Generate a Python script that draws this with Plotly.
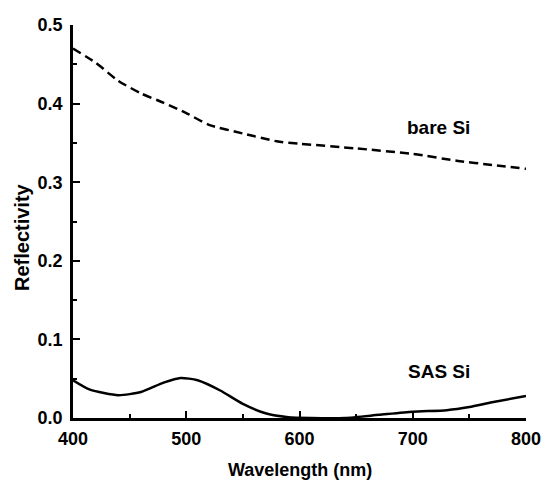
import plotly.graph_objects as go

bare_wl = [400, 420, 440, 460, 480, 500, 520, 550, 580, 600, 650, 700, 740, 770, 800]
bare_r = [0.470, 0.452, 0.429, 0.413, 0.401, 0.388, 0.373, 0.362, 0.352, 0.349, 0.343, 0.336, 0.327, 0.322, 0.317]

sas_wl = [400, 415, 440, 460, 480, 495, 510, 530, 550, 570, 590, 610, 640, 670, 700, 730, 750, 770, 800]
sas_r = [0.048, 0.036, 0.029, 0.033, 0.045, 0.051, 0.048, 0.035, 0.018, 0.006, 0.001, 0.0, 0.0, 0.004, 0.008, 0.010, 0.014, 0.020, 0.028]

labels = [("bare Si", 723, 0.369), ("SAS Si", 723, 0.059)]

FONT = "Liberation Sans, Arial, sans-serif"

fig = go.Figure()
fig.add_trace(go.Scatter(x=bare_wl, y=bare_r, mode="lines",
                         line=dict(color="black", width=2.5, dash="9px,5px", shape="spline", smoothing=0.6),
                         showlegend=False))
fig.add_trace(go.Scatter(x=sas_wl, y=sas_r, mode="lines",
                         line=dict(color="black", width=2.5, shape="spline", smoothing=0.6),
                         showlegend=False))

for txt, x, y in labels:
    fig.add_annotation(x=x, y=y, text=txt, showarrow=False,
                       font=dict(family=FONT, size=19, color="black", weight="bold"))

fig.add_annotation(xref="paper", yref="paper", x=0.5, y=-0.132, yanchor="middle",
                   text="Wavelength (nm)", showarrow=False,
                   font=dict(family=FONT, size=18, color="black", weight="bold"))
fig.add_annotation(xref="paper", yref="paper", x=-0.113, y=0.46, xanchor="center", yanchor="middle",
                   text="Reflectivity", showarrow=False, textangle=-90,
                   font=dict(family=FONT, size=20, color="black", weight="bold"))

axis_common = dict(showline=True, linecolor="black", linewidth=2.5, showgrid=False, zeroline=False,
                   ticks="inside", ticklen=7, tickwidth=2, tickcolor="black", automargin=False,
                   tickfont=dict(family=FONT, size=18, color="black", weight="bold"))

fig.update_xaxes(range=[400, 800], dtick=100, tick0=400,
                 minor=dict(dtick=50, ticks="inside", ticklen=4, tickwidth=2, tickcolor="black"),
                 ticklabelstandoff=3,
                 **axis_common)
fig.update_yaxes(range=[0, 0.5], dtick=0.1, tick0=0, tickformat=".1f",
                 minor=dict(dtick=0.05, ticks="inside", ticklen=4, tickwidth=2, tickcolor="black"),
                 ticklabelstandoff=4,
                 **axis_common)

fig.update_layout(width=544, height=485, margin=dict(l=73, r=18, t=25, b=67),
                  plot_bgcolor="white", paper_bgcolor="white",
                  font=dict(family=FONT, color="black"))

fig.write_html("out.html")
